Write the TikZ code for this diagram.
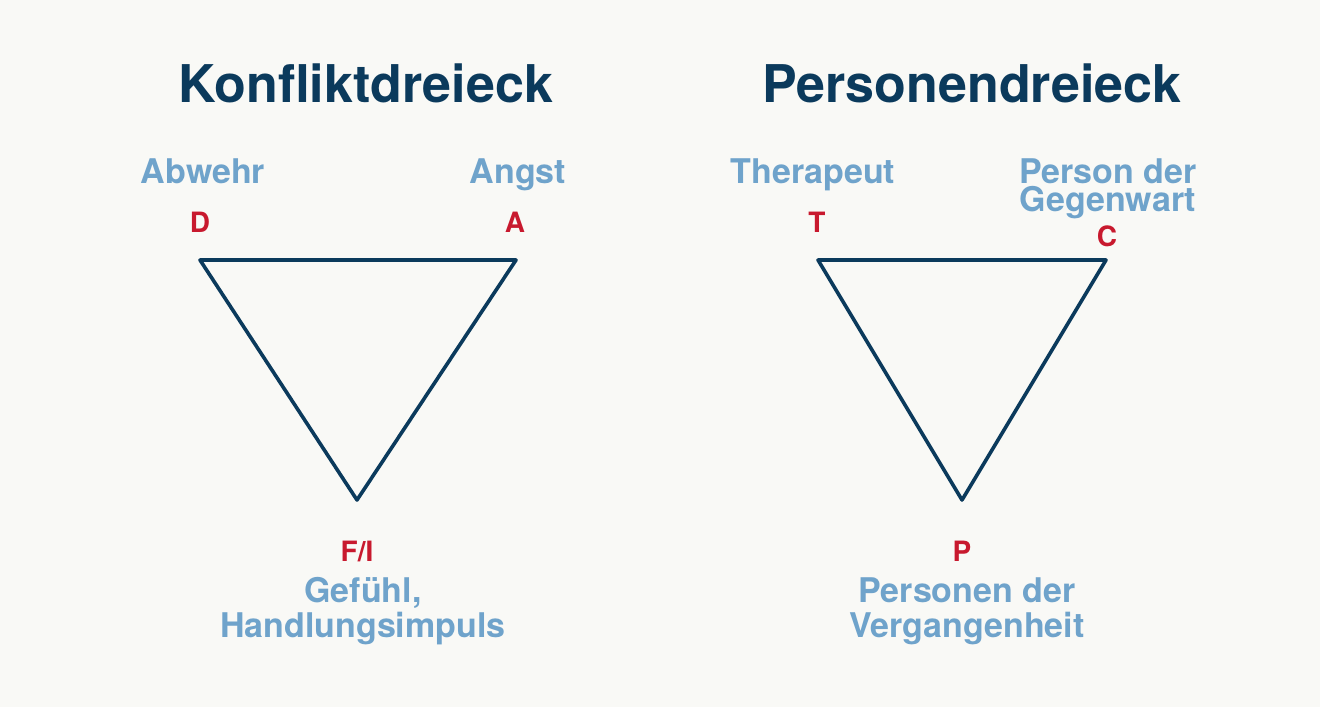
\documentclass[tikz,border=0pt]{standalone}
\usepackage{fontspec}
\setmainfont{TeX Gyre Heros}
\definecolor{bgc}{HTML}{F9F9F6}
\definecolor{navy}{HTML}{0B3A5C}
\definecolor{lblue}{HTML}{6FA3CB}
\definecolor{lred}{HTML}{C8192E}
\begin{document}
\begin{tikzpicture}[x=1pt,y=-1pt,
  title/.style={font=\fontsize{52}{60}\selectfont\bfseries, text=navy, anchor=base, inner sep=0pt},
  lbl/.style={font=\fontsize{34}{35}\selectfont\bfseries, text=lblue, anchor=base, inner sep=0pt, align=center},
  lbltight/.style={lbl, font=\fontsize{34}{28}\selectfont\bfseries},
  vtx/.style={font=\fontsize{28}{30}\selectfont\bfseries, text=lred, anchor=base, inner sep=0pt},
  tri/.style={draw=navy, line width=3.6pt, line join=round}]
\fill[bgc] (0,0) rectangle (1320,707);
\useasboundingbox (0,0) rectangle (1320,707);
% titles
\node[title] (t1) at (366,102) {Konfliktdreieck};
\node[title] (t2) at (972,102) {Personendreieck};
% triangle 1
\coordinate (d) at (200,260);
\coordinate (a) at (516,260);
\coordinate (f) at (357,500);
\draw[tri] (d) -- (a) -- (f) -- cycle;
\node[lbl] (abwehr) at (203,183) {Abwehr};
\node[lbl] (angst) at (518,183) {Angst};
\node[vtx] (D) at (200,232) {D};
\node[vtx] (A) at (515,232) {A};
\node[vtx] (FI) at (357,561) {F/I};
\node[lbl] (gef) at (363,637) {Gefühl,\\Handlungsimpuls};
% triangle 2
\coordinate (t) at (818,260);
\coordinate (c) at (1106,260);
\coordinate (p) at (962,500);
\draw[tri] (t) -- (c) -- (p) -- cycle;
\node[lbl] (ther) at (813,183) {Therapeut};
\node[lbltight] (pdg) at (1108,211) {Person der\\Gegenwart};
\node[vtx] (T) at (817,232) {T};
\node[vtx] (C) at (1107,246) {C};
\node[vtx] (P) at (962,561) {P};
\node[lbl] (pdv) at (967,637) {Personen der\\Vergangenheit};
\end{tikzpicture}
\end{document}
